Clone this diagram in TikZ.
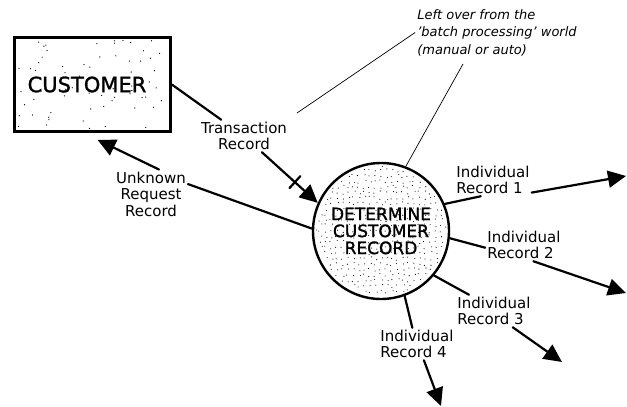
\documentclass[tikz,border=0pt]{standalone}
\usepackage{fontspec}
\setmainfont{DejaVu Sans}
\newfontfamily\heavyfont[FakeBold=1.3]{DejaVu Sans}
\usetikzlibrary{arrows.meta,calc,backgrounds}

\begin{document}
\begin{tikzpicture}[x=1pt,y=-1pt,
  flowtext/.style={font=\fontsize{15}{16.5}\selectfont, align=center, inner sep=2pt},
  flowtextl/.style={flowtext, align=left},
  flow/.style={line width=2.2pt, line cap=round},
  flowarrow/.style={flow, -{Triangle[length=18pt,width=17pt]}},
  noteline/.style={line width=0.7pt},
  dot/.style={fill=black},
]
\useasboundingbox (0,0) rectangle (627,407);

% external entity and process
\node[draw, line width=2.6pt, minimum width=156pt, minimum height=94pt,
      font=\heavyfont\fontsize{21}{21}\selectfont] (customer) at (92.5,84.5)
      {\hspace*{-11pt}CUSTOMER};
\node[circle, draw, line width=2.4pt, minimum size=136pt, inner sep=0pt, align=center,
      font=\heavyfont\fontsize{17}{17}\selectfont] (proc) at (381,231)
      {DETERMINE\\CUSTOMER\\RECORD};

% stippled shading: jittered grid inside the circle, loose scatter in the box
\begin{scope}[on background layer]
  \fill[white] (0,0) rectangle (627,407);
  \pgfmathsetseed{4242}
  \foreach \gx in {-66,-60.5,...,66}{
    \foreach \gy in {-66,-60.5,...,66}{
      \pgfmathsetmacro\px{\gx+3.4*rnd-1.7}
      \pgfmathsetmacro\py{\gy+3.4*rnd-1.7}
      \pgfmathtruncatemacro\ins{(\px*\px+\py*\py<4200) ? 1 : 0}
      \ifnum\ins=1
        \fill[dot] ($(proc.center)+(\px,\py)$) circle (0.55pt);
      \fi
    }
  }
  \foreach \i in {1,...,70}{
    \pgfmathsetmacro\dx{150*rnd-75}
    \pgfmathsetmacro\dy{88*rnd-44}
    \fill[dot] ($(customer.center)+(\dx,\dy)$) circle (0.65pt);
  }
\end{scope}

% flow labels
\node[flowtext] (trlab) at (244,136) {Transaction\\Record};
\node[flowtext] (unklab) at (151,194) {Unknown\\Request\\Record};
\node[flowtextl] (o1lab) at (493,180) {Individual\\Record 1};
\node[flowtextl] (o2lab) at (524,245) {Individual\\Record 2};
\node[flowtextl] (o3lab) at (494,311) {Individual\\Record 3};
\node[flowtextl] (o4lab) at (417,344) {Individual\\Record 4};

% annotation
\node[font=\itshape\fontsize{13}{17.5}\selectfont, align=left, inner sep=2pt] (note)
  at (497,32.5) {Left over from the\\'batch processing' world\\(manual or auto)};

% free ends of the outgoing flows
\coordinate (o1end) at (626,176);
\coordinate (o2end) at (626,293);
\coordinate (o3end) at (562,362);
\coordinate (o4end) at (441,406);
\coordinate (notetip) at (297,113);

% transaction flow with its tick
\draw[flow] (customer.east) -- (trlab);
\draw[flowarrow] (trlab) -- (proc.156);
\coordinate (tk) at ($(trlab)!0.69!(proc.156)$);
\draw[flow] ($(tk)!8pt!90:(proc.156)$) -- ($(tk)!8pt!-90:(proc.156)$);

% unknown request flow
\draw[flow] (proc.178) -- (unklab.15);
\draw[flowarrow] (unklab.72) -- ([xshift=5pt,yshift=-7pt]customer.south);

% outgoing records
\draw[flow] (proc.23) -- (o1lab.233);
\draw[flowarrow] (o1lab.-18) -- (o1end);
\draw[flow] (proc.-6) -- (o2lab.184);
\draw[flowarrow] (o2lab.-60) -- (o2end);
\draw[flow] (proc.-40) -- (o3lab.147);
\draw[flowarrow] (o3lab.-41) -- (o3end);
\draw[flow] (proc.-70) -- (o4lab.106);
\draw[flowarrow] (o4lab.-67) -- (o4end);

% annotation pointers
\draw[noteline] (note.west) -- (notetip);
\draw[noteline] ([xshift=-34pt,yshift=-6pt]note.south) -- (proc.69);
\end{tikzpicture}
\end{document}
